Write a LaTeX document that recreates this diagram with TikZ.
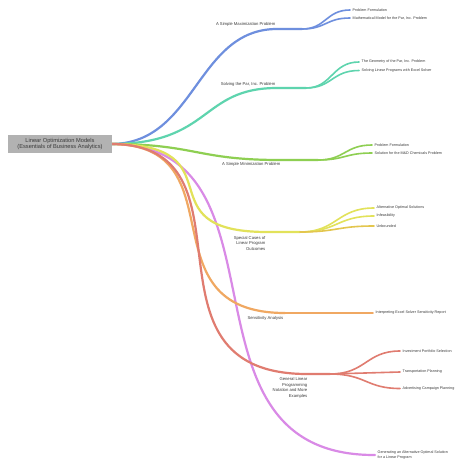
\documentclass[tikz,border=0pt]{standalone}
\usepackage{fontspec}
\setmainfont{Liberation Sans}
\definecolor{cblue}{HTML}{6E8FDE}
\definecolor{cteal}{HTML}{5ED4AE}
\definecolor{cgreen}{HTML}{8ECF52}
\definecolor{cyellow}{HTML}{E2E25A}
\definecolor{cyorange}{HTML}{E3C64E}
\definecolor{corange}{HTML}{F0A862}
\definecolor{cred}{HTML}{E07C70}
\definecolor{cpurple}{HTML}{D98AE6}
\definecolor{ctext}{HTML}{3A3A3A}
\tikzset{
  rootbox/.style={fill=black!30, inner sep=0pt, minimum width=104pt, minimum height=18pt, align=center, text=ctext, font=\fontsize{5.7}{6.6}\selectfont},
  lbl/.style={inner sep=0.5pt, text=ctext, font=\fontsize{4.2}{5.6}\selectfont},
  leaf/.style={inner ysep=0.5pt, inner xsep=2.5pt, anchor=west, text=ctext, font=\fontsize{3.7}{4.6}\selectfont},
  mainbr/.style={line width=2.2pt, line cap=round},
  subbr/.style={line width=1.6pt, line cap=round},
}
\begin{document}
\begin{tikzpicture}[x=1pt,y=-1pt]
\useasboundingbox (0,0) rectangle (474,471);
\fill[white] (0,0) rectangle (474,471);
% root
\coordinate (r) at (111,144);
% branch points
\coordinate (b1) at (277,29);  \coordinate (b1e) at (302,29);
\coordinate (b2) at (277,88);  \coordinate (b2e) at (306,88);
\coordinate (b3) at (280,160); \coordinate (b3e) at (318,160);
\coordinate (b4) at (267,232); \coordinate (b4e) at (300,232);
\coordinate (b5) at (285,313);
\coordinate (b6) at (307,374); \coordinate (b6e) at (330,374);
% leaves
\node[leaf] (l11) at (350,10) {Problem Formulation};
\node[leaf] (l12) at (350,18) {Mathematical Model for the Par, Inc. Problem};
\node[leaf] (l21) at (359,62) {The Geometry of the Par, Inc. Problem};
\node[leaf] (l22) at (359,70.5) {Solving Linear Programs with Excel Solver};
\node[leaf] (l31) at (372,145) {Problem Formulation};
\node[leaf] (l32) at (372,153) {Solution for the M\&D Chemicals Problem};
\node[leaf] (l41) at (374,208) {Alternative Optimal Solutions};
\node[leaf] (l42) at (374,216) {Infeasibility};
\node[leaf] (l43) at (374,226) {Unbounded};
\node[leaf] (l51) at (373,313) {Interpreting Excel Solver Sensitivity Report};
\node[leaf] (l61) at (400,351) {Investment Portfolio Selection};
\node[leaf] (l62) at (400,372) {Transportation Planning};
\node[leaf] (l63) at (400,388.5) {Advertising Campaign Planning};
\node[leaf, align=left] (l71) at (375,455) {Generating an Alternative Optimal Solution\\for a Linear Program};
% purple (drawn first, under others)
\draw[mainbr, cpurple] (r) .. controls (300,144) and (165,456) .. (l71.west);
% main branches
\draw[mainbr, cblue] (r) .. controls (196,144) and (196,29) .. (b1) -- (b1e);
\draw[mainbr, cteal] (r) .. controls (212,144) and (200,88) .. (b2) -- (b2e);
\draw[mainbr, cgreen] (r) .. controls (196,144) and (196,160) .. (b3) -- (b3e);
\draw[mainbr, cyellow] (r) .. controls (241,144) and (140,232) .. (b4) -- (b4e);
\draw[mainbr, corange] (r) .. controls (242,144) and (141,313) .. (b5);
\draw[mainbr, cred] (r) .. controls (266,144) and (127,374) .. (b6) -- (b6e);
% sub branches
\draw[subbr, cblue] (b1e) .. controls (326,29) and (326,10) .. (l11.west);
\draw[subbr, cblue] (b1e) .. controls (326,29) and (326,18) .. (l12.west);
\draw[subbr, cteal] (b2e) .. controls (332,88) and (332,62) .. (l21.west);
\draw[subbr, cteal] (b2e) .. controls (332,88) and (332,70.5) .. (l22.west);
\draw[subbr, cgreen] (b3e) .. controls (345,160) and (345,145) .. (l31.west);
\draw[subbr, cgreen] (b3e) .. controls (345,160) and (345,153) .. (l32.west);
\draw[subbr, cyellow] (b4e) .. controls (337,232) and (337,208) .. (l41.west);
\draw[subbr, cyellow] (b4e) .. controls (337,232) and (337,216) .. (l42.west);
\draw[subbr, cyorange] (b4e) .. controls (337,232) and (337,226) .. (l43.west);
\draw[subbr, corange] (b5) -- (l51.west);
\draw[subbr, cred] (b6e) .. controls (366,374) and (366,351) .. (l61.west);
\draw[subbr, cred] (b6e) -- (l62.west);
\draw[subbr, cred] (b6e) .. controls (366,374) and (366,388.5) .. (l63.west);
% root box on top
\node[rootbox] (root) at (60,144) {Linear Optimization Models\\(Essentials of Business Analytics)};
% labels
\node[lbl, anchor=east] (n1) at (276,24) {A Simple Maximization Problem};
\node[lbl, anchor=east] (n2) at (276,84) {Solving the Par, Inc. Problem};
\node[lbl, anchor=east] (n3) at (281,164.5) {A Simple Minimization Problem};
\node[lbl, anchor=north east, align=right] (n4) at (266,235.5) {Special Cases of\\Linear Program\\Outcomes};
\node[lbl, anchor=east] (n5) at (284,318) {Sensitivity Analysis};
\node[lbl, anchor=north east, align=right] (n6) at (308,377) {General Linear\\Programming\\Notation and More\\Examples};
\end{tikzpicture}
\end{document}
